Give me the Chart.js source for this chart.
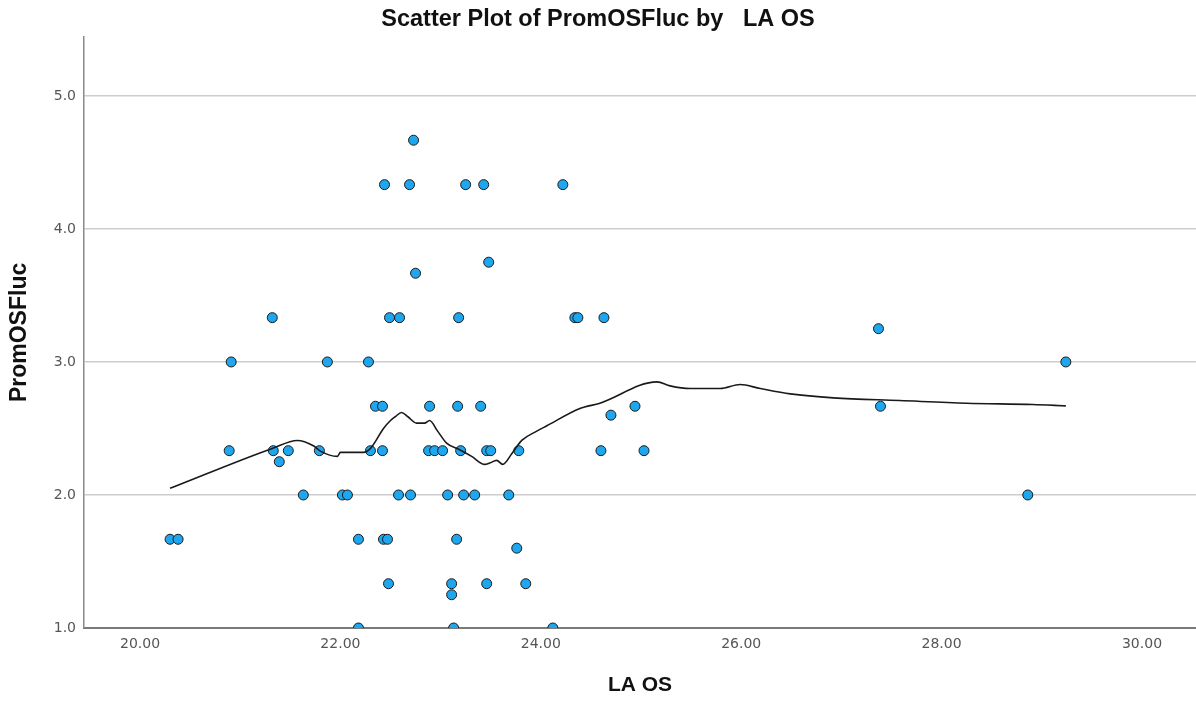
<!DOCTYPE html>
<html>
<head>
<meta charset="utf-8">
<script src="https://cdn.jsdelivr.net/npm/chart.js@4"></script>
<style>
  html, body { margin: 0; padding: 0; background: #ffffff; overflow: hidden; }
  #wrap { width: 1196px; height: 702px; }
  #chart { display: block; }
</style>
</head>
<body>
<div id="wrap"><canvas id="chart" width="1196" height="702"></canvas></div>
<script>
// LA OS (x) and PromOSFluc (y) for each case
const LA_OS = [
  22.73,
  22.44, 22.69, 23.25, 23.43, 24.22,
  23.48,
  22.75,
  21.32, 22.49, 22.59, 23.18, 24.34, 24.37, 24.63,
  27.37,
  20.91, 21.87, 22.28, 29.24,
  22.35, 22.42, 22.89, 23.17, 23.40, 24.94, 27.39,
  24.70,
  20.89, 21.33, 21.48, 21.79, 22.30, 22.42, 22.88, 22.94, 23.02, 23.20, 23.46, 23.50, 23.78, 24.60, 25.03,
  21.39,
  21.63, 22.02, 22.07, 22.58, 22.70, 23.07, 23.23, 23.34, 23.68, 28.86,
  20.30, 20.38, 22.18, 22.43, 22.47, 23.16,
  23.76,
  22.48, 23.11, 23.46, 23.85,
  23.11,
  22.18, 23.13, 24.12
];
const PROM_OS_FLUC = [
  4.667,
  4.333, 4.333, 4.333, 4.333, 4.333,
  3.75,
  3.667,
  3.333, 3.333, 3.333, 3.333, 3.333, 3.333, 3.333,
  3.25,
  3.0, 3.0, 3.0, 3.0,
  2.667, 2.667, 2.667, 2.667, 2.667, 2.667, 2.667,
  2.6,
  2.333, 2.333, 2.333, 2.333, 2.333, 2.333, 2.333, 2.333, 2.333, 2.333, 2.333, 2.333, 2.333, 2.333, 2.333,
  2.25,
  2.0, 2.0, 2.0, 2.0, 2.0, 2.0, 2.0, 2.0, 2.0, 2.0,
  1.667, 1.667, 1.667, 1.667, 1.667, 1.667,
  1.6,
  1.333, 1.333, 1.333, 1.333,
  1.25,
  1.0, 1.0, 1.0
];

// Loess fit line
const FIT_X = [20.30, 21.32, 21.57, 21.73, 21.80, 21.97, 22.00, 22.23, 22.30, 22.43,
               22.50, 22.55, 22.61, 22.67, 22.76, 22.84, 22.89, 22.97, 23.06, 23.19,
               23.31, 23.44, 23.49, 23.56, 23.62, 23.71, 23.81, 23.96, 24.06, 24.39,
               24.59, 25.16, 25.29, 25.49, 25.79, 25.99, 26.19, 26.49, 26.92, 27.58,
               28.25, 28.91, 29.24];
const FIT_Y = [2.05, 2.35, 2.41, 2.37, 2.33, 2.29, 2.32, 2.32, 2.35, 2.50,
               2.56, 2.59, 2.62, 2.59, 2.54, 2.54, 2.56, 2.48, 2.39, 2.34,
               2.29, 2.23, 2.24, 2.26, 2.23, 2.31, 2.41, 2.48, 2.52, 2.65,
               2.69, 2.85, 2.82, 2.80, 2.80, 2.83, 2.80, 2.76, 2.73, 2.71,
               2.69, 2.68, 2.67];

// Axis ticks
const X_TICKS = [20, 22, 24, 26, 28, 30];
const Y_TICKS = [1, 2, 3, 4, 5];

const scatterPoints = LA_OS.map((x, i) => ({ x: x, y: PROM_OS_FLUC[i] }));
const fitPoints = FIT_X.map((x, i) => ({ x: x, y: FIT_Y[i] }));

const tickFont = { family: '"DejaVu Sans", sans-serif', size: 14 };
const titleFamily = '"Liberation Sans", Arial, sans-serif';

new Chart(document.getElementById('chart'), {
  type: 'scatter',
  data: {
    datasets: [
      {
        type: 'line',
        label: 'Fit line',
        data: fitPoints,
        borderColor: '#1a1a1a',
        borderWidth: 1.6,
        pointRadius: 0,
        fill: false,
        cubicInterpolationMode: 'monotone'
      },
      {
        label: 'PromOSFluc',
        data: scatterPoints,
        pointRadius: 5,
        pointHoverRadius: 5,
        pointBackgroundColor: '#1ea6ee',
        pointBorderColor: '#1b1b1b',
        pointBorderWidth: 1,
        clip: { left: 8, right: 8, top: 8, bottom: 0 }
      }
    ]
  },
  options: {
    responsive: false,
    animation: false,
    layout: { padding: 0, autoPadding: false },
    plugins: {
      legend: { display: false },
      tooltip: { enabled: false },
      title: {
        display: true,
        text: 'Scatter Plot of PromOSFluc by   LA OS',
        color: '#111111',
        font: { family: titleFamily, size: 23.5, weight: 'bold', lineHeight: 1.1 },
        padding: { top: 7, bottom: 4 }
      }
    },
    scales: {
      x: {
        type: 'linear',
        min: 19.441,
        max: 30.539,
        afterFit: (s) => { s.height = 74; s.paddingLeft = 0; s.paddingRight = 0; },
        afterBuildTicks: (s) => { s.ticks = X_TICKS.map(v => ({ value: v })); },
        grid: { display: false, drawTicks: false },
        border: { display: true, color: '#7a7a7a', width: 2 },
        ticks: {
          padding: 8,
          color: '#555555',
          font: tickFont,
          callback: (v) => Number(v).toFixed(2)
        },
        title: {
          display: true,
          text: 'LA OS',
          color: '#111111',
          font: { family: titleFamily, size: 21, weight: 'bold', lineHeight: 1.2 },
          padding: { top: 0, bottom: 4.4 }
        }
      },
      y: {
        type: 'linear',
        min: 1,
        max: 5.444,
        afterFit: (s) => { s.width = 84; s.paddingTop = 0; s.paddingBottom = 0; },
        afterBuildTicks: (s) => { s.ticks = Y_TICKS.map(v => ({ value: v })); },
        grid: { color: '#cdcdcd', lineWidth: 1.5, drawTicks: false },
        border: { display: true, color: '#8a8a8a', width: 1.5 },
        ticks: {
          padding: 8,
          color: '#555555',
          font: tickFont,
          callback: (v) => Number(v).toFixed(1)
        },
        title: {
          display: true,
          text: 'PromOSFluc',
          color: '#111111',
          font: { family: titleFamily, size: 23, weight: 'bold', lineHeight: 1.2 },
          padding: { top: 6, bottom: 0 }
        }
      }
    }
  }
});
</script>
</body>
</html>
